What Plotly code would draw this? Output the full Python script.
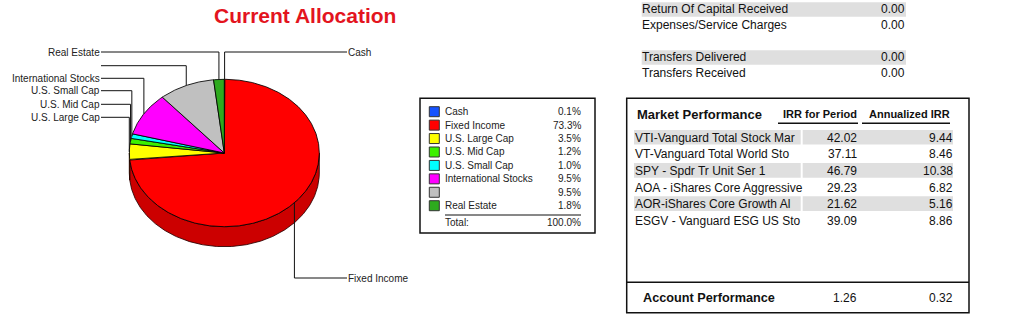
import numpy as np
import plotly.graph_objects as go

# ---------------- data ----------------
categories = ["Cash", "Fixed Income", "U.S. Large Cap", "U.S. Mid Cap",
              "U.S. Small Cap", "International Stocks", "", "Real Estate"]
shares = [0.1, 73.3, 3.5, 1.2, 1.0, 9.5, 9.5, 1.8]
total_label = "100.0%"

cash_items = ["Return Of Capital Received", "Expenses/Service Charges", "",
              "Transfers Delivered", "Transfers Received"]
cash_values = [0.00, 0.00, None, 0.00, 0.00]

funds = ["VTI-Vanguard Total Stock Mar", "VT-Vanguard Total World Sto",
         "SPY - Spdr Tr Unit Ser 1", "AOA - iShares Core Aggressive",
         "AOR-iShares Core Growth Al", "ESGV - Vanguard ESG US Sto"]
irr_period = [42.02, 37.11, 46.79, 29.23, 21.62, 39.09]
irr_annual = [9.44, 8.46, 10.38, 6.82, 5.16, 8.86]
account_irr_period = 1.26
account_irr_annual = 0.32

# ---------------- styles ----------------
slice_colors = ["#1652FF", "#FF0000", "#FFFF00", "#3CF000", "#00FFFF",
                "#FF00FF", "#C0C0C0", "#2EAA1E"]
label_y = [52, 278, 117.3, 104.3, 90.7, 78.3, 65.7, 52]
label_side = ["r", "r", "l", "l", "l", "l", "l", "l"]
FONT = "Arial, Liberation Sans, sans-serif"
BAND = "#DFDFDF"

cx, cy, rx, ry, depth = 224.3, 153.0, 95.0, 73.7, 20.0


def darker(hexc, f=0.8):
    h = hexc.lstrip("#")
    r, g, b = (int(h[i:i + 2], 16) for i in (0, 2, 4))
    return "rgb(%d,%d,%d)" % (r * f, g * f, b * f)


def ell(t, dy=0.0):
    t = np.radians(t)
    return cx + rx * np.sin(t), cy - ry * np.cos(t) + dy


fig = go.Figure()

frac = np.array(shares) / np.sum(shares)
ends = np.cumsum(frac) * 360.0
starts = ends - frac * 360.0

# side (visible front half)
for s0, e0, col in zip(starts, ends, slice_colors):
    s, e = max(s0, 90.0), min(e0, 270.0)
    if e <= s:
        continue
    ts = np.linspace(s, e, max(3, int((e - s) * 2)))
    xt, yt = ell(ts)
    xb, yb = ell(ts[::-1], depth)
    fig.add_trace(go.Scatter(
        x=np.concatenate([xt, xb, xt[:1]]), y=np.concatenate([yt, yb, yt[:1]]),
        mode="lines", fill="toself", fillcolor=darker(col),
        line=dict(color="rgba(40,0,0,0.85)", width=1), hoverinfo="skip"))

# top face
for s, e, col in zip(starts, ends, slice_colors):
    ts = np.linspace(s, e, max(3, int((e - s) * 2)))
    xa, ya = ell(ts)
    fig.add_trace(go.Scatter(
        x=np.concatenate([[cx], xa, [cx]]), y=np.concatenate([[cy], ya, [cy]]),
        mode="lines", fill="toself", fillcolor=col,
        line=dict(color="rgba(0,0,0,0.85)", width=1), hoverinfo="skip"))

annotations = []


def text(x, y, s, anchor="left", size=12, bold=False, color="#111"):
    dx = -2 if anchor == "left" else (2 if anchor == "right" else 0)
    annotations.append(dict(
        x=x + dx, y=y, xref="x", yref="y", text=("<b>%s</b>" % s) if bold else s,
        showarrow=False, xanchor=anchor, yanchor="middle",
        font=dict(family=FONT, size=size, color=color)))


# leader lines and labels
mids = (starts + ends) / 2.0
for cat, m, ly, side in zip(categories, mids, label_y, label_side):
    ex, ey = ell(m)
    if side == "l":
        xs, ys = [101, ex, ex], [ly, ly, ey]
        text(100, ly, cat, anchor="right", size=10, color="#222")
    else:
        xs, ys = [ex, ex, 347], [ey, ly, ly]
        text(348, ly, cat, anchor="left", size=10, color="#222")
    fig.add_trace(go.Scatter(x=xs, y=ys, mode="lines",
                             line=dict(color="#111", width=1), hoverinfo="skip"))

# title
annotations.append(dict(x=305, y=15, xref="x", yref="y", text="<b>Current Allocation</b>",
                        showarrow=False, xanchor="center", yanchor="middle",
                        font=dict(family=FONT, size=21, color="#E3141E")))

shapes = []
# legend table
shapes.append(dict(type="rect", x0=420, y0=98.3, x1=595, y1=233,
                   line=dict(color="#111", width=1.5), fillcolor="rgba(0,0,0,0)"))
leg_y = [111.7 + 13.43 * i for i in range(len(categories))]
fig.add_trace(go.Scatter(x=[434.3] * len(categories), y=leg_y, mode="markers",
                         marker=dict(symbol="square", size=10, color=slice_colors,
                                     line=dict(color="#333", width=1)),
                         hoverinfo="skip"))
for cat, v, y in zip(categories, shares, leg_y):
    text(445, y, cat, size=10, color="#222")
    text(581, y, "%.1f%%" % v, anchor="right", size=10, color="#222")
shapes.append(dict(type="line", x0=445, x1=581, y0=215, y1=215,
                   line=dict(color="#111", width=1)))
text(445, 222.7, "Total:", size=10, color="#222")
text(581, 222.7, total_label, anchor="right", size=10, color="#222")

# cash flow items (top right)
for i, (item, val) in enumerate(zip(cash_items, cash_values)):
    y = 9.3 + 16 * i
    if val is None:
        continue
    if i in (0, 3):
        shapes.append(dict(type="rect", x0=641.7, x1=906, y0=y - 7, y1=y + 7.5,
                           line=dict(width=0), fillcolor=BAND, layer="below"))
    text(642.3, y, item, size=12)
    text(905, y, "%.2f" % val, anchor="right", size=12)

# market performance box
shapes.append(dict(type="rect", x0=626.7, y0=98.3, x1=969, y1=312.7,
                   line=dict(color="#111", width=1.5), fillcolor="rgba(0,0,0,0)"))
shapes.append(dict(type="line", x0=626.7, x1=969, y0=282.3, y1=282.3,
                   line=dict(color="#111", width=1.5)))
text(637, 114, "Market Performance", size=13, bold=True)
text(857, 113.5, "IRR for Period", anchor="right", size=11, bold=True)
text(950, 113.5, "Annualized IRR", anchor="right", size=11, bold=True)
shapes.append(dict(type="line", x0=778, x1=858, y0=123.3, y1=123.3,
                   line=dict(color="#111", width=1.5)))
shapes.append(dict(type="line", x0=862, x1=950, y0=123.3, y1=123.3,
                   line=dict(color="#111", width=1.5)))
for i, (fund, p, a) in enumerate(zip(funds, irr_period, irr_annual)):
    y = 137.7 + 16.6 * i
    if i % 2 == 0:
        shapes.append(dict(type="rect", x0=634, x1=800.7, y0=y - 7.8, y1=y + 6.8,
                           line=dict(width=0), fillcolor=BAND, layer="below"))
        shapes.append(dict(type="rect", x0=802.7, x1=953, y0=y - 7.8, y1=y + 6.8,
                           line=dict(width=0), fillcolor=BAND, layer="below"))
    text(635, y, fund, size=12)
    text(857, y, "%.2f" % p, anchor="right", size=12)
    text(953, y, "%.2f" % a, anchor="right", size=12)

text(642.7, 297.7, "Account Performance", size=12.7, bold=True)
text(857, 297.7, "%.2f" % account_irr_period, anchor="right", size=12)
text(953, 297.7, "%.2f" % account_irr_annual, anchor="right", size=12)

fig.update_layout(
    width=1015, height=333, margin=dict(l=0, r=0, t=0, b=0),
    paper_bgcolor="white", plot_bgcolor="white", showlegend=False,
    xaxis=dict(range=[0, 1015], visible=False, fixedrange=True),
    yaxis=dict(range=[333, 0], visible=False, fixedrange=True),
    annotations=annotations, shapes=shapes,
)
fig.write_html("out.html")
